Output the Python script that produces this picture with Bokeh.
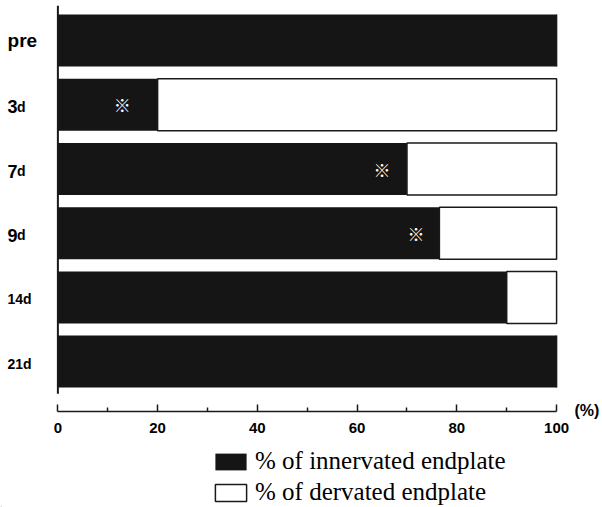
from bokeh.plotting import figure
from bokeh.layouts import column
from bokeh.models import Range1d, FixedTicker, Label, Legend, LegendItem, LinearAxis
from bokeh.embed import file_html
from bokeh.resources import INLINE

# ---- data ----
categories = ["pre", "3d", "7d", "9d", "14d", "21d"]
innervated = [100, 20, 70, 76.5, 90, 100]          # % of innervated endplate
star_x = [None, 12.9, 65.0, 71.8, None, None]      # position of the significance mark
x_ticks = [0, 20, 40, 60, 80, 100]
x_minor = [10, 30, 50, 70, 90]
unit_label = "(%)"
legend_labels = ["% of innervated endplate", "% of dervated endplate"]

n = len(categories)
ys = [n - i for i in range(n)]
total = [100] * n

PX_X = 5.04          # pixels per percent
PX_Y = 64.2          # pixels per category
FRAME_W = 570
FRAME_H = 406
X0 = -58 / PX_X
X1 = X0 + FRAME_W / PX_X
Y_TOP = n + 0.5 + 3 / PX_Y
Y_BOT = Y_TOP - FRAME_H / PX_Y

BLACK = "#151515"
black_style = dict(fill_color=BLACK, line_color=None)
white_style = dict(fill_color="white", line_color="#1a1a1a", line_width=1.5)

p = figure(width=602, height=440, output_backend="svg", toolbar_location=None,
           x_range=Range1d(X0, X1), y_range=Range1d(Y_BOT, Y_TOP),
           min_border_left=0, min_border_right=32, min_border_top=5, min_border_bottom=29)
p.outline_line_color = None
p.xgrid.visible = False
p.ygrid.visible = False
p.yaxis.visible = False

p.hbar(y=ys, left=0, right=innervated, height=0.81, **black_style)
p.hbar(y=ys, left=innervated, right=total, height=0.81, **white_style)

# y axis line at x = 0
p.segment(x0=[0], y0=[0.5], x1=[0], y1=[Y_TOP], line_color="#1a1a1a", line_width=2)

# x axis
xa = p.xaxis[0]
xa.bounds = (0, 100)
xa.ticker = FixedTicker(ticks=x_ticks, minor_ticks=x_minor)
xa.major_tick_in = 7
xa.major_tick_out = 0
xa.minor_tick_in = 4
xa.minor_tick_out = 0
xa.axis_line_width = 1.5
xa.axis_line_color = "#1a1a1a"
xa.major_tick_line_color = "#1a1a1a"
xa.minor_tick_line_color = "#1a1a1a"
xa.major_tick_line_width = 1.5
xa.minor_tick_line_width = 1.5
xa.major_label_text_font = "Liberation Sans"
xa.major_label_text_font_style = "bold"
xa.major_label_text_font_size = "15px"
xa.major_label_text_color = "black"
xa.major_label_standoff = 11

# unit label "(%)" at the level of the x axis, drawn by a tick-less right axis
p.extra_y_ranges = {"px": Range1d(0, FRAME_H)}
ua = LinearAxis(y_range_name="px", ticker=FixedTicker(ticks=[1]),
                major_label_overrides={1: unit_label},
                axis_line_color=None, major_tick_line_color=None, minor_tick_line_color=None,
                major_label_standoff=4, major_label_text_font="Liberation Sans",
                major_label_text_font_style="bold", major_label_text_font_size="16px",
                major_label_text_color="black")
p.add_layout(ua, "right")

# category labels
LX = -10.1
for cat, y in zip(categories, ys):
    common = dict(x=LX, y=y, y_offset=-2, text_align="left", text_baseline="alphabetic",
                  text_font="Liberation Sans", text_font_style="bold", text_color="black")
    if cat == "pre":
        p.add_layout(Label(text=cat, text_font_size="19px", y_offset=0,
                           **{k: v for k, v in common.items() if k != "y_offset"}))
    elif len(cat) == 2:
        p.add_layout(Label(text=cat[0], text_font_size="18px", **common))
        p.add_layout(Label(text=cat[1], text_font_size="14px", x_offset=9.5, **common))
    else:
        p.add_layout(Label(text=cat, text_font_size="14px", **common))

# significance marks
for sx, y in zip(star_x, ys):
    if sx is not None:
        p.add_layout(Label(x=sx, y=y, text="※", text_align="center", text_baseline="middle",
                           text_font="Noto Sans CJK JP", text_font_size="17px",
                           text_color="white"))

# ---- legend strip ----
q = figure(width=602, height=67, output_backend="svg", toolbar_location=None,
           x_range=Range1d(0, 602), y_range=Range1d(0, 67),
           min_border_left=0, min_border_right=0, min_border_top=0, min_border_bottom=0)
q.outline_line_color = None
q.xaxis.visible = False
q.yaxis.visible = False
q.xgrid.visible = False
q.ygrid.visible = False
# legend key renderers (one entry each, placed outside the visible range)
key_y = [-100]
lb = q.hbar(y=key_y, left=[0], right=[1], height=1, **black_style)
lw = q.hbar(y=key_y, left=[0], right=[1], height=1, **white_style)

legend = Legend(items=[LegendItem(label=legend_labels[0], renderers=[lb]),
                       LegendItem(label=legend_labels[1], renderers=[lw])],
                location=(211, 1), orientation="vertical",
                glyph_width=39, glyph_height=21, label_standoff=5, spacing=3,
                padding=0, margin=0, border_line_color=None, background_fill_alpha=0,
                label_text_font="Liberation Serif", label_text_font_size="25px",
                label_text_color="black")
q.add_layout(legend, "center")

open("out.html", "w").write(file_html(column(p, q, spacing=0), INLINE))
